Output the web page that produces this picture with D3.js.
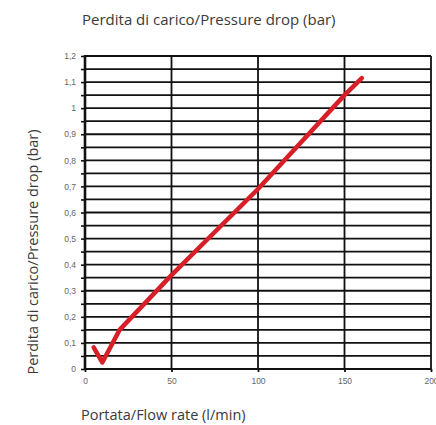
<!DOCTYPE html>
<html>
<head>
<meta charset="utf-8">
<script src="https://cdn.jsdelivr.net/npm/d3@7"></script>
<style>
  html, body { margin: 0; padding: 0; background: #fff; }
  svg { display: block; }
</style>
</head>
<body>
<svg id="chart" width="436" height="425"></svg>
<script>
// Flow rate (l/min) and pressure drop (bar) along the curve
const flowRate = [5, 10, 20, 50, 100, 150, 160];
const pressureDrop = [0.083, 0.025, 0.15, 0.36, 0.69, 1.05, 1.115];

const xTicks = [0, 50, 100, 150, 200];
const yTicks = [0, 0.1, 0.2, 0.3, 0.4, 0.5, 0.6, 0.7, 0.8, 0.9, 1, 1.1, 1.2];
const yMinorTicks = d3.range(0, 1.2001, 0.05);

const titleText = "Perdita di carico/Pressure drop (bar)";
const yTitle = "Perdita di carico/Pressure drop (bar)";
const xTitle = "Portata/Flow rate (l/min)";

const svg = d3.select("#chart");
const plotLeft = 85, plotRight = 431, plotTop = 56, plotBottom = 369;

const x = d3.scaleLinear().domain([0, 200]).range([plotLeft, plotRight]);
const y = d3.scaleLinear().domain([0, 1.2]).range([plotBottom, plotTop]);

const fmt = d => String(d).replace(".", ",");

// Horizontal grid lines every 0.05 bar, with small ticks left of the axis
const gy = svg.append("g").attr("transform", `translate(${plotLeft},0)`)
  .call(d3.axisLeft(y).tickValues(yMinorTicks).tickSize(4).tickFormat(""));
gy.select(".domain").remove();
gy.selectAll(".tick line").attr("stroke", "#111").attr("stroke-width", 1.6);

svg.append("g").selectAll("line").data(yMinorTicks).join("line")
  .attr("x1", plotLeft).attr("x2", plotRight)
  .attr("y1", d => y(d)).attr("y2", d => y(d))
  .attr("stroke", "#111").attr("stroke-width", 1.8);

// Vertical grid lines
svg.append("g").selectAll("line").data(xTicks.slice(1)).join("line")
  .attr("x1", d => x(d)).attr("x2", d => x(d))
  .attr("y1", plotTop).attr("y2", plotBottom)
  .attr("stroke", "#111").attr("stroke-width", 1.8);

// Left axis line
svg.append("line")
  .attr("x1", plotLeft).attr("x2", plotLeft).attr("y1", plotTop - 1).attr("y2", plotBottom + 1)
  .attr("stroke", "#111").attr("stroke-width", 2.6);

// Y tick labels
const yl = svg.append("g").attr("transform", `translate(${plotLeft},0)`)
  .call(d3.axisLeft(y).tickValues(yTicks).tickSize(0).tickPadding(9).tickFormat(fmt));
yl.select(".domain").remove();
yl.selectAll("text")
  .attr("fill", "#666").style("font-family", "'Liberation Sans Narrow', 'Arial Narrow', sans-serif")
  .style("font-size", "8.5px");

// X axis with ticks and labels
const gx = svg.append("g").attr("transform", `translate(0,${plotBottom})`)
  .call(d3.axisBottom(x).tickValues(xTicks).tickSize(3).tickPadding(6));
gx.select(".domain").remove();
gx.selectAll(".tick line").attr("stroke", "#111").attr("stroke-width", 1.8);
gx.selectAll("text")
  .attr("fill", "#666").style("font-family", "'Liberation Sans Narrow', 'Arial Narrow', sans-serif")
  .style("font-size", "8.5px");

// Curve
const pts = flowRate.map((f, i) => [f, pressureDrop[i]]);
svg.append("path")
  .datum(pts)
  .attr("d", d3.line().x(d => x(d[0])).y(d => y(d[1])))
  .attr("fill", "none")
  .attr("stroke", "#d71f27")
  .attr("stroke-width", 4.5)
  .attr("stroke-linecap", "round")
  .attr("stroke-linejoin", "round");

// Titles
const textFont = "'Open Sans', 'Noto Sans', sans-serif";
svg.append("text").attr("x", 82).attr("y", 25)
  .attr("fill", "#3a3a3a").style("font-family", textFont).style("font-size", "15px")
  .text(titleText);

svg.append("text").attr("x", 81).attr("y", 420)
  .attr("fill", "#3a3a3a").style("font-family", textFont).style("font-size", "14.5px")
  .text(xTitle);

svg.append("text")
  .attr("transform", "translate(38,252) rotate(-90)")
  .attr("text-anchor", "middle")
  .attr("fill", "#3a3a3a").style("font-family", textFont).style("font-size", "14.5px")
  .text(yTitle);
</script>
</body>
</html>
